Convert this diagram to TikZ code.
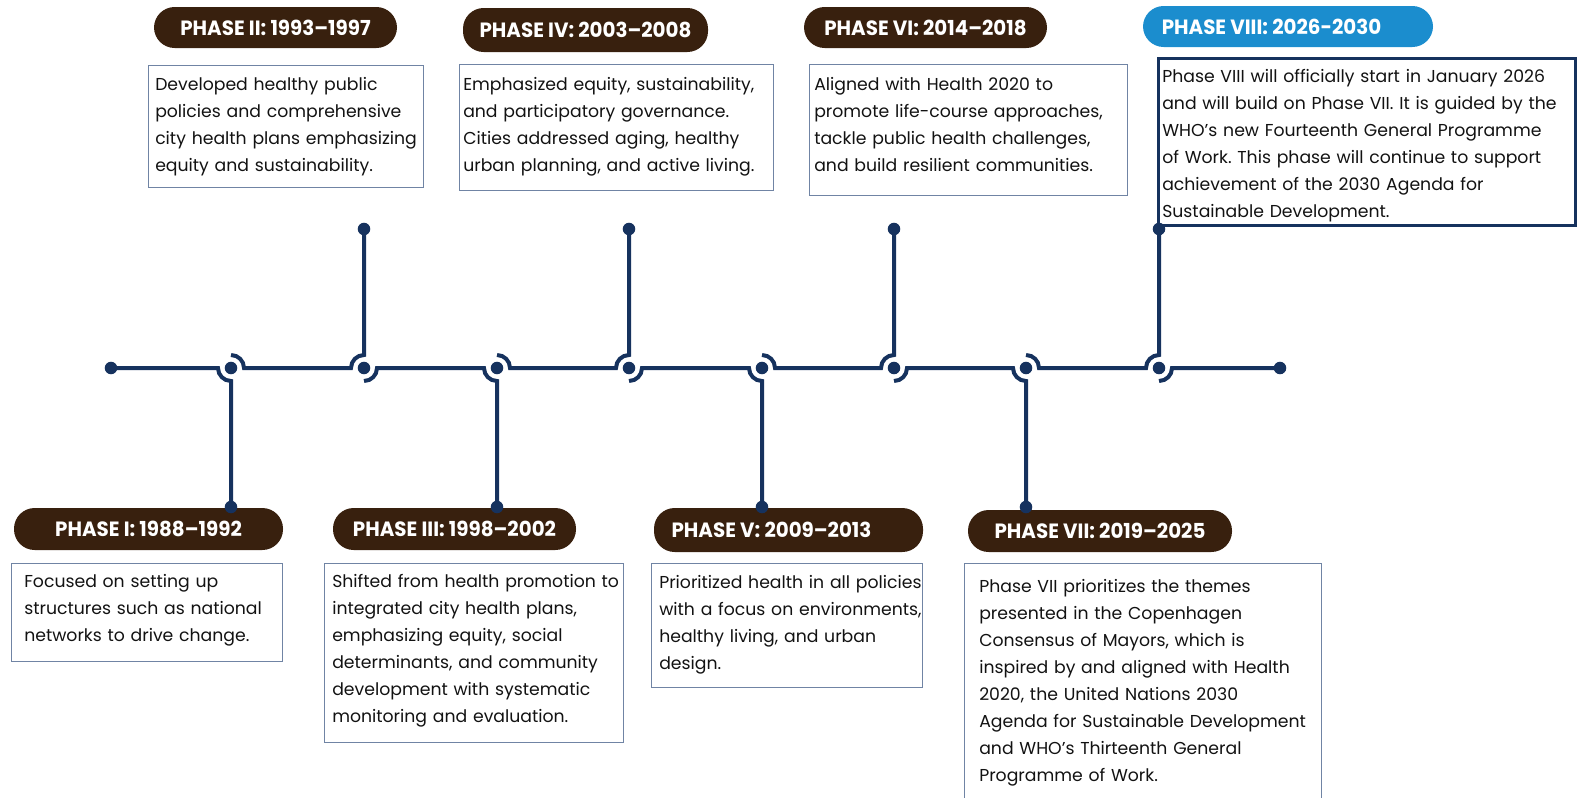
\documentclass[tikz,border=0pt]{standalone}
\usepackage{fontspec}
\setmainfont{Poppins}
\newfontfamily\pillfont[FakeStretch=0.96]{Poppins}
\usetikzlibrary{calc}
\definecolor{navy}{RGB}{22,50,94}
\definecolor{brownpill}{RGB}{56,32,14}
\definecolor{bluepill}{RGB}{27,141,206}
\definecolor{boxline}{RGB}{112,132,164}
\definecolor{txt}{RGB}{18,18,18}
\frenchspacing
\begin{document}
\begin{tikzpicture}[x=0.75pt,y=0.75pt,
 tl/.style={draw=navy,line width=3pt},
 dot/.style={circle,fill=navy,inner sep=0pt,minimum size=9.4pt},
 pill/.style={rounded corners=15.5pt,fill=brownpill,text=white,inner sep=0pt,
   font=\pillfont\bfseries\fontsize{15.5pt}{18pt}\selectfont},
 frame/.style={draw=boxline,line width=1.1pt,anchor=north west,inner sep=0pt},
 desc/.style={anchor=base west,align=left,text width=320pt,inner sep=0pt,text=txt,
   font=\fontsize{12.95pt}{20.25pt}\selectfont}
]
\useasboundingbox (0,0) rectangle (1577,-797);
% timeline nodes
\node[dot] (s) at (111,-368) {};
\node[dot] (e) at (1280,-368) {};
\node[dot] (c1) at (231,-368) {};
\node[dot] (c2) at (364,-368) {};
\node[dot] (c3) at (497,-368) {};
\node[dot] (c4) at (629,-368) {};
\node[dot] (c5) at (762,-368) {};
\node[dot] (c6) at (894,-368) {};
\node[dot] (c7) at (1026,-368) {};
\node[dot] (c8) at (1159,-368) {};
\coordinate (d1) at (231,-507);
\coordinate (u2) at (364,-229);
\coordinate (d3) at (497,-507);
\coordinate (u4) at (629,-229);
\coordinate (d5) at (762,-507);
\coordinate (u6) at (894,-229);
\coordinate (d7) at (1026,-507);
\coordinate (u8) at (1159,-229);
% connectors
\draw[tl] (s.center) -- ($(c1)+(-13,0)$) arc[start angle=180,end angle=270,radius=9.75pt] -- (d1);
\draw[tl] ($(c1)+(0,13)$) arc[start angle=90,end angle=0,radius=9.75pt] -- ($(c2)+(-13,0)$) arc[start angle=180,end angle=90,radius=9.75pt] -- (u2);
\draw[tl] ($(c2)+(0,-13)$) arc[start angle=270,end angle=360,radius=9.75pt] -- ($(c3)+(-13,0)$) arc[start angle=180,end angle=270,radius=9.75pt] -- (d3);
\draw[tl] ($(c3)+(0,13)$) arc[start angle=90,end angle=0,radius=9.75pt] -- ($(c4)+(-13,0)$) arc[start angle=180,end angle=90,radius=9.75pt] -- (u4);
\draw[tl] ($(c4)+(0,-13)$) arc[start angle=270,end angle=360,radius=9.75pt] -- ($(c5)+(-13,0)$) arc[start angle=180,end angle=270,radius=9.75pt] -- (d5);
\draw[tl] ($(c5)+(0,13)$) arc[start angle=90,end angle=0,radius=9.75pt] -- ($(c6)+(-13,0)$) arc[start angle=180,end angle=90,radius=9.75pt] -- (u6);
\draw[tl] ($(c6)+(0,-13)$) arc[start angle=270,end angle=360,radius=9.75pt] -- ($(c7)+(-13,0)$) arc[start angle=180,end angle=270,radius=9.75pt] -- (d7);
\draw[tl] ($(c7)+(0,13)$) arc[start angle=90,end angle=0,radius=9.75pt] -- ($(c8)+(-13,0)$) arc[start angle=180,end angle=90,radius=9.75pt] -- (u8);
\draw[tl] ($(c8)+(0,-13)$) arc[start angle=270,end angle=360,radius=9.75pt] -- (e.center);
% pills
\node[pill,minimum width=201.75pt,minimum height=31.5pt] (p1) at (148.5,-529) {PHASE I: 1988–1992};
\node[pill,minimum width=182.25pt,minimum height=30.75pt] (p2) at (275.5,-27.5) {PHASE II: 1993–1997};
\node[pill,minimum width=182.25pt,minimum height=31.5pt] (p3) at (454.5,-529) {PHASE III: 1998–2002};
\node[pill,minimum width=183.75pt,minimum height=33pt] (p4) at (585.5,-30) {PHASE IV: 2003–2008};
\node[pill,minimum width=201.75pt,minimum height=33pt] (p5) at (788.5,-530) {PHASE V: 2009–2013\hspace{25.5pt}\mbox{}};
\node[pill,minimum width=182.25pt,minimum height=30.75pt] (p6) at (925.5,-27.5) {PHASE VI: 2014–2018};
\node[pill,minimum width=198pt,minimum height=31.5pt] (p7) at (1100,-531) {PHASE VII: 2019–2025};
\node[pill,fill=bluepill,minimum width=217.5pt,minimum height=30.75pt] (p8) at (1288,-26.5) {PHASE VIII: 2026-2030\hspace{24.75pt}\mbox{}};
% frames
\node[frame,minimum width=203.25pt,minimum height=73.5pt] (b1) at (11,-563) {};
\node[frame,minimum width=206.25pt,minimum height=91.5pt] (b2) at (148,-65) {};
\node[frame,minimum width=224.25pt,minimum height=134.25pt] (b3) at (324,-563) {};
\node[frame,minimum width=235.5pt,minimum height=94.5pt] (b4) at (459,-64) {};
\node[frame,minimum width=203.25pt,minimum height=93pt] (b5) at (651,-563) {};
\node[frame,minimum width=238.5pt,minimum height=98.25pt] (b6) at (809,-64) {};
\node[frame,minimum width=267.75pt,minimum height=187.5pt] (b7) at (964,-563) {};
\node[frame,draw=navy,line width=2.2pt,minimum width=312.75pt,minimum height=125.25pt] (b8) at (1157,-57) {};
% texts
\node[desc] (t1) at (24,-587) {Focused on setting up\\structures such as national\\networks to drive change.};
\node[desc] (t2) at (155,-90) {Developed healthy public\\policies and comprehensive\\city health plans emphasizing\\equity and sustainability.};
\node[desc] (t3) at (332,-587) {Shifted from health promotion to\\integrated city health plans,\\emphasizing equity, social\\determinants, and community\\development with systematic\\monitoring and evaluation.};
\node[desc] (t4) at (463,-90) {Emphasized equity, sustainability,\\and participatory governance.\\Cities addressed aging, healthy\\urban planning, and active living.};
\node[desc] (t5) at (659,-588) {Prioritized health in all policies\\with a focus on environments,\\healthy living, and urban\\design.};
\node[desc] (t6) at (814,-90) {Aligned with Health 2020 to\\promote life-course approaches,\\tackle public health challenges,\\and build resilient communities.};
\node[desc] (t7) at (979,-592) {Phase VII prioritizes the themes\\presented in the Copenhagen\\Consensus of Mayors, which is\\inspired by and aligned with Health\\2020, the United Nations 2030\\Agenda for Sustainable Development\\and WHO’s Thirteenth General\\Programme of Work.};
\node[desc] (t8) at (1162,-82) {Phase VIII will officially start in January 2026\\and will build on Phase VII. It is guided by the\\WHO’s new Fourteenth General Programme\\of Work. This phase will continue to support\\achievement of the 2030 Agenda for\\Sustainable Development.};
% end dots
\node[dot] (D1) at (d1) {};
\node[dot] (U2) at (u2) {};
\node[dot] (D3) at (d3) {};
\node[dot] (U4) at (u4) {};
\node[dot] (D5) at (d5) {};
\node[dot] (U6) at (u6) {};
\node[dot] (D7) at (d7) {};
\node[dot] (U8) at (u8) {};
\end{tikzpicture}
\end{document}
